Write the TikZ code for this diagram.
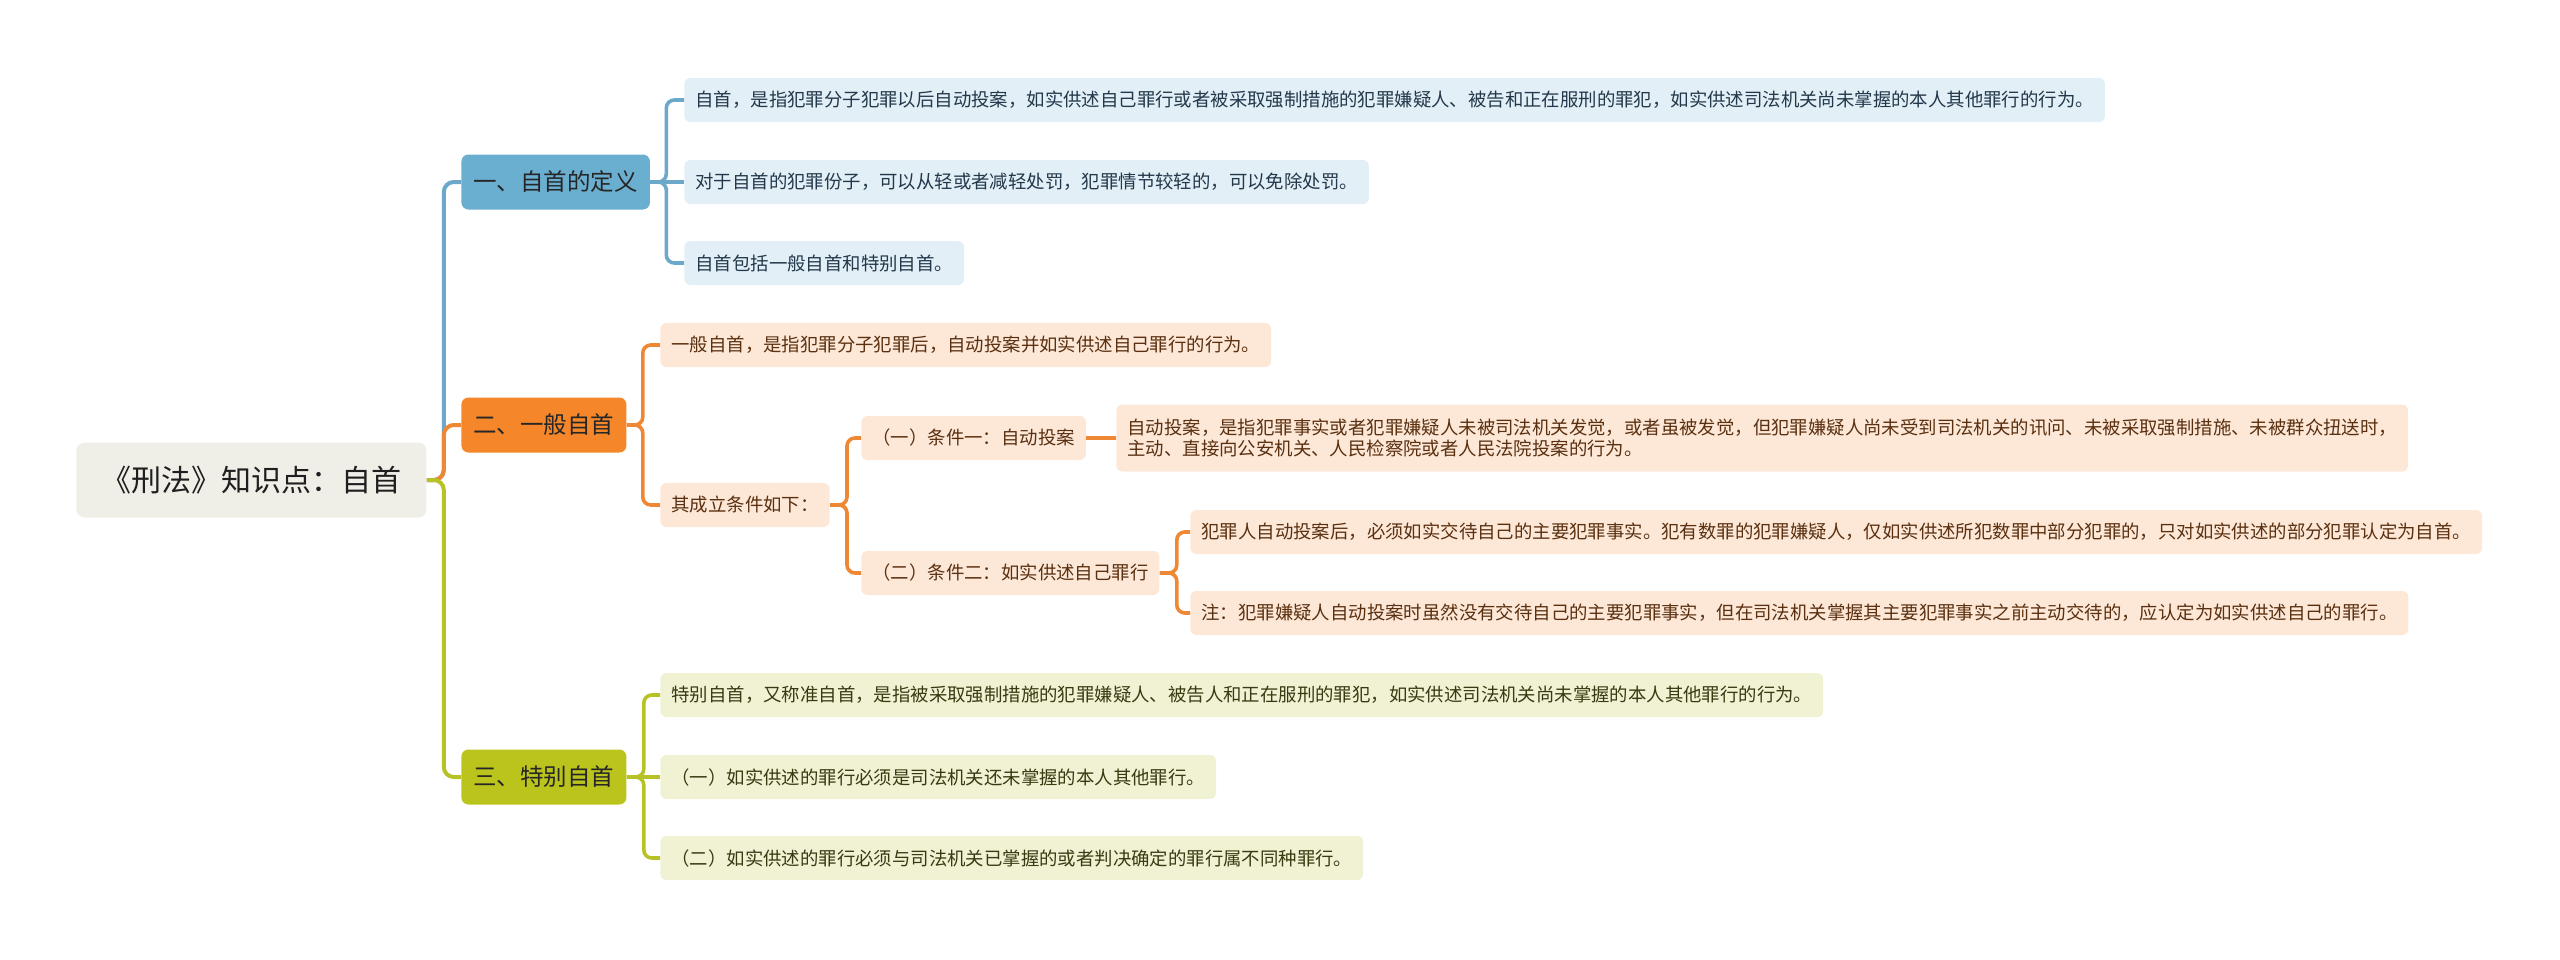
\documentclass[tikz,border=0pt]{standalone}
\usepackage{fontspec}
\setmainfont{Noto Sans CJK SC}
\definecolor{rootfill}{HTML}{EFEEE7}
\definecolor{bnode}{HTML}{6AAED0}
\definecolor{bline}{HTML}{6BA8C9}
\definecolor{bleaf}{HTML}{E2EFF7}
\definecolor{btext}{HTML}{23384A}
\definecolor{onode}{HTML}{F5872A}
\definecolor{oline}{HTML}{EF8834}
\definecolor{oleaf}{HTML}{FDE8D8}
\definecolor{otext}{HTML}{5A3010}
\definecolor{gnode}{HTML}{BBC41C}
\definecolor{gline}{HTML}{B7C227}
\definecolor{gleaf}{HTML}{F1F2D4}
\definecolor{gtext}{HTML}{3A3A12}
\tikzset{
  rootbox/.style={fill=rootfill, rounded corners=4pt, anchor=west, inner xsep=12.5pt, minimum height=37.5pt, font=\fontsize{15pt}{18pt}\selectfont, text=black!88},
  topbox/.style={rounded corners=3.5pt, anchor=west, inner xsep=6pt, minimum height=27.5pt, font=\fontsize{11.75pt}{14pt}\selectfont, text=black!85},
  leaf/.style={rounded corners=3pt, anchor=west, inner xsep=5.5pt, minimum height=22pt, font=\fontsize{9.2pt}{10.9pt}\selectfont, align=left},
  bleafbox/.style={leaf, fill=bleaf, text=btext},
  oleafbox/.style={leaf, fill=oleaf, text=otext},
  gleafbox/.style={leaf, fill=gleaf, text=gtext},
  link/.style={line width=1.8pt, rounded corners=4pt},
  trunk/.style={line width=2pt, rounded corners=5pt}
}
\begin{document}
\begin{tikzpicture}[x=0.5pt,y=-0.5pt]
\useasboundingbox (0,0) rectangle (2560,959);

% root
\node[rootbox] (root) at (76,480) {《刑法》知识点：自首};

% level 1
\node[topbox, fill=bnode] (n1) at (461,182) {一、自首的定义};
\node[topbox, fill=onode] (n2) at (461,425) {二、一般自首};
\node[topbox, fill=gnode] (n3) at (461,777) {三、特别自首};

% blue leaves
\node[bleafbox] (a1) at (684,100) {自首，是指犯罪分子犯罪以后自动投案，如实供述自己罪行或者被采取强制措施的犯罪嫌疑人、被告和正在服刑的罪犯，如实供述司法机关尚未掌握的本人其他罪行的行为。};
\node[bleafbox] (a2) at (684,182) {对于自首的犯罪份子，可以从轻或者减轻处罚，犯罪情节较轻的，可以免除处罚。};
\node[bleafbox] (a3) at (684,263) {自首包括一般自首和特别自首。};

% orange
\node[oleafbox] (b1) at (660,345) {一般自首，是指犯罪分子犯罪后，自动投案并如实供述自己罪行的行为。};
\node[oleafbox] (b2) at (660,505) {其成立条件如下：};
\node[oleafbox] (c1) at (861,438) {（一）条件一：自动投案};
\node[oleafbox] (c2) at (861,573) {（二）条件二：如实供述自己罪行};
\node[oleafbox, minimum height=33.5pt] (d1) at (1116,438) {自动投案，是指犯罪事实或者犯罪嫌疑人未被司法机关发觉，或者虽被发觉，但犯罪嫌疑人尚未受到司法机关的讯问、未被采取强制措施、未被群众扭送时，\\主动、直接向公安机关、人民检察院或者人民法院投案的行为。};
\node[oleafbox] (e1) at (1190,532) {犯罪人自动投案后，必须如实交待自己的主要犯罪事实。犯有数罪的犯罪嫌疑人，仅如实供述所犯数罪中部分犯罪的，只对如实供述的部分犯罪认定为自首。};
\node[oleafbox] (e2) at (1190,613) {注：犯罪嫌疑人自动投案时虽然没有交待自己的主要犯罪事实，但在司法机关掌握其主要犯罪事实之前主动交待的，应认定为如实供述自己的罪行。};

% green
\node[gleafbox] (f1) at (660,695) {特别自首，又称准自首，是指被采取强制措施的犯罪嫌疑人、被告人和正在服刑的罪犯，如实供述司法机关尚未掌握的本人其他罪行的行为。};
\node[gleafbox] (f2) at (660,777) {（一）如实供述的罪行必须是司法机关还未掌握的本人其他罪行。};
\node[gleafbox] (f3) at (660,858) {（二）如实供述的罪行必须与司法机关已掌握的或者判决确定的罪行属不同种罪行。};

% trunk connectors
\draw[trunk, bline] (root.east) -- ++(17,0) |- (n1.west);
\draw[trunk, oline] (root.east) -- ++(17,0) |- (n2.west);
\draw[trunk, gline] (root.east) -- ++(17,0) |- (n3.west);

% blue
\draw[link, bline] (n1.east) -- ++(16,0) |- (a1.west);
\draw[link, bline] (n1.east) -- (a2.west);
\draw[link, bline] (n1.east) -- ++(16,0) |- (a3.west);

% orange
\draw[link, oline] (n2.east) -- ++(16,0) |- (b1.west);
\draw[link, oline] (n2.east) -- ++(16,0) |- (b2.west);
\draw[link, oline] (b2.east) -- ++(17,0) |- (c1.west);
\draw[link, oline] (b2.east) -- ++(17,0) |- (c2.west);
\draw[link, oline] (c1.east) -- (d1.west);
\draw[link, oline] (c2.east) -- ++(17,0) |- (e1.west);
\draw[link, oline] (c2.east) -- ++(17,0) |- (e2.west);

% green
\draw[link, gline] (n3.east) -- ++(17,0) |- (f1.west);
\draw[link, gline] (n3.east) -- (f2.west);
\draw[link, gline] (n3.east) -- ++(17,0) |- (f3.west);
\end{tikzpicture}
\end{document}
